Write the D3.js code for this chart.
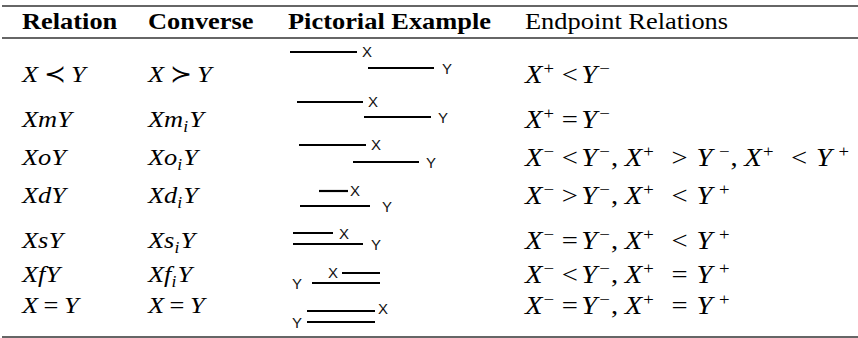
<!DOCTYPE html>
<html>
<head>
<meta charset="utf-8">
<script src="https://cdn.jsdelivr.net/npm/d3@7"></script>
<style>
  body { margin: 0; background: #fff; }
</style>
</head>
<body>
<svg id="chart" width="858" height="338"></svg>
<script>
// table content
var headers = ["Relation", "Converse", "Pictorial Example", "Endpoint Relations"];
var relations = ["X ≺ Y", "XmY", "XoY", "XdY", "XsY", "XfY", "X = Y"];
var converses = ["X ≻ Y", "Xm_iY", "Xo_iY", "Xd_iY", "Xs_iY", "Xf_iY", "X = Y"];
var endpoints = [
    "X^+ < Y^−",
    "X^+ = Y^−",
    "X^− < Y^−,X^+ > Y^−,X^+ < Y^+",
    "X^− > Y^−,X^+ < Y^+",
    "X^− = Y^−,X^+ < Y^+",
    "X^− < Y^−,X^+ = Y^+",
    "X^− = Y^−,X^+ = Y^+"
];

// intervals drawn in the pictorial column (timeline units)
var xStart = [0, 7, 9, 29, 3, 52, 17];
var xEnd   = [67, 73, 76, 58, 43, 90, 85];
var yStart = [78, 74, 63, 10, 3, 22, 17];
var yEnd   = [144, 141, 129, 80, 73, 90, 85];
var xLabelSide = ["r", "r", "r", "r", "r", "l", "r"];
var yLabelSide = ["r", "r", "r", "r", "r", "l", "l"];

/*----------  layout  ----------*/
var colX = [22, 148, 288, 525];
var headBase = 29;
var rowBase = [82, 127, 165, 203, 248, 282, 313];
var lineYx = [52, 102, 145, 191, 233, 273, 311];
var lineYy = [68, 117, 162, 206, 244, 283, 322];
var gapX = [5, 5, 5, 2, 6, 4, 3];
var gapY = [8, 7, 7, 12, 8, 10, 5];
var labDyX = [0, 0, 0, 0, 1, 0, -2];
var serif = "'Liberation Serif', 'Times New Roman', 'DejaVu Serif', serif";
var sans = "'Liberation Sans', Arial, sans-serif";

var svg = d3.select("svg#chart");
var width = +svg.attr("width");

var x = d3.scaleLinear().domain([0, 144]).range([290, 434]);

// rules (booktabs style)
svg.selectAll("line.rule")
    .data([6, 38, 337])
    .enter()
    .append("line")
    .attr("class", "rule")
    .attr("x1", 2)
    .attr("x2", width)
    .attr("y1", d => d)
    .attr("y2", d => d)
    .style("stroke", "#333")
    .style("stroke-width", (d, i) => i == 2 ? 1.6 : 1.3);

// header
svg.selectAll("text.head")
    .data(headers)
    .enter()
    .append("text")
    .attr("class", "head")
    .attr("transform", (d, i) => "translate(" + colX[i] + "," + headBase + ") scale(1.1,1)")
    .style("font-family", serif)
    .style("font-size", "24px")
    .style("font-weight", (d, i) => i < 3 ? "bold" : "normal")
    .text(d => d);

function newText(g, px, py, size) {
    var small = Math.round(size * 0.66);
    var t = g.append("text")
        .attr("transform", "translate(" + px + "," + py + ") scale(1.1,1)")
        .style("font-family", serif)
        .style("font-size", size + "px");
    var state = { shift: 0 };
    // put one glyph, kind = n | sup | sub
    t.put = function (c, kind, dx) {
        var target = kind == "sup" ? -size / 3 : (kind == "sub" ? 5 : 0);
        t.append("tspan")
            .attr("dx", dx)
            .attr("dy", target - state.shift)
            .style("font-style", /[A-Za-z]/.test(c) ? "italic" : "normal")
            .style("font-size", (kind == "n" ? size : small) + "px")
            .text(c);
        state.shift = target;
    };
    return t;
}

// relation / converse cells: letters italic, _ subscript, space = thick space
function mathText(g, str, px, py) {
    var t = newText(g, px, py, 24);
    var pend = 0;
    for (var i = 0; i < str.length; i++) {
        var c = str[i];
        if (c === " ") { pend += 5; continue; }
        var kind = "n";
        if (c === "_") { c = str[++i]; kind = "sub"; }
        t.put(c, kind, pend);
        pend = kind == "sub" ? 1 : 0;
    }
}

// endpoint cells: clauses "A^s rel B^s" joined by commas
function endpointText(g, str, px, py) {
    var t = newText(g, px, py + 1, 26);
    str.split(",").forEach(function (cl, k) {
        if (k > 0) t.put(",", "n", 1);
        var toks = cl.split(" ");
        toks.forEach(function (tok, j) {
            if (j == 1) {
                t.put(tok, "n", k == 0 ? 7 : 16);
            } else {
                var dx = 0;
                if (j == 0 && k > 0) dx = 6;
                if (j == 2) dx = k == 0 ? 3 : 8;
                t.put(tok[0], "n", dx);
                t.put(tok.slice(2), "sup", tok[0] == "X" ? 1 : (k == 0 ? 2 : 6));
            }
        });
    });
}

var body = svg.append("g").attr("id", "body");
relations.forEach((d, i) => mathText(body, d, colX[0], rowBase[i]));
converses.forEach((d, i) => mathText(body, d, colX[1], rowBase[i]));
endpoints.forEach((d, i) => endpointText(body, d, colX[3], rowBase[i]));

// pictorial example
var rows = d3.range(relations.length);
var pic = svg.append("g").attr("id", "pictorial");

pic.selectAll("line.ix")
    .data(rows)
    .enter()
    .append("line")
    .attr("x1", i => x(xStart[i]))
    .attr("x2", i => x(xEnd[i]))
    .attr("y1", i => lineYx[i])
    .attr("y2", i => lineYx[i])
    .style("stroke", "#000")
    .style("stroke-width", 2.2);

pic.selectAll("line.iy")
    .data(rows)
    .enter()
    .append("line")
    .attr("x1", i => x(yStart[i]))
    .attr("x2", i => x(yEnd[i]))
    .attr("y1", i => lineYy[i])
    .attr("y2", i => lineYy[i])
    .style("stroke", "#000")
    .style("stroke-width", 2.2);

pic.selectAll("text.lx")
    .data(rows)
    .enter()
    .append("text")
    .attr("x", i => xLabelSide[i] == "r" ? x(xEnd[i]) + gapX[i] : x(xStart[i]) - gapX[i])
    .attr("y", i => lineYx[i] + 5 + labDyX[i])
    .attr("text-anchor", i => xLabelSide[i] == "r" ? "start" : "end")
    .style("font-family", sans)
    .style("font-size", "15px")
    .style("fill", "#111")
    .text("X");

pic.selectAll("text.ly")
    .data(rows)
    .enter()
    .append("text")
    .attr("x", i => yLabelSide[i] == "r" ? x(yEnd[i]) + gapY[i] : x(yStart[i]) - gapY[i])
    .attr("y", i => lineYy[i] + 6)
    .attr("text-anchor", i => yLabelSide[i] == "r" ? "start" : "end")
    .style("font-family", sans)
    .style("font-size", "15px")
    .style("fill", "#111")
    .text("Y");
</script>
</body>
</html>
